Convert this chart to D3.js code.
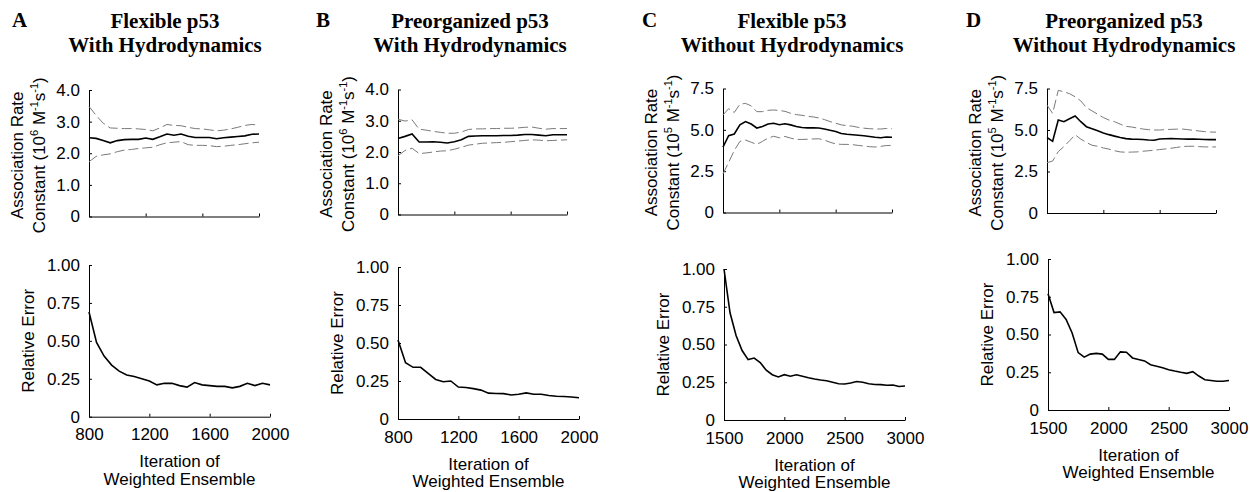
<!DOCTYPE html>
<html lang="en">
  <head>
    <meta charset="UTF-8" />
    <title>p53 association rate convergence</title>
    <script src="https://d3js.org/d3.v7.min.js"></script>
    <style>
      body { margin: 0; background: white; }
      svg { display: block; }
      .tick text, .label { font-family: "Liberation Sans", Arial, sans-serif; font-size: 17px; fill: black; }
      .title { font-family: "Liberation Serif", "Times New Roman", serif; font-weight: bold; font-size: 21px; fill: black; }
      .axis path, .axis line { stroke: black; stroke-width: 1; }
      .mean { fill: none; stroke: black; stroke-width: 1.6; }
      .bound { fill: none; stroke: #7a7a7a; stroke-width: 1; stroke-dasharray: 10,4; }
    </style>
  </head>
  <body>
    <svg width="1250" height="492"></svg>
    <script>
      // iterations of weighted ensemble
      const itersHydro = [800, 850, 900, 950, 1000, 1050, 1100, 1150, 1200, 1250, 1300, 1350, 1400,
        1450, 1500, 1550, 1600, 1650, 1700, 1750, 1800, 1850, 1900, 1950, 2000];
      const itersNoHydro = [1500, 1550, 1600, 1650, 1700, 1750, 1800, 1850, 1900, 1950, 2000, 2050,
        2100, 2150, 2200, 2250, 2300, 2350, 2400, 2450, 2500, 2550, 2600, 2650, 2700, 2750, 2800,
        2850, 2900, 2950, 3000];

      // A: flexible p53, with hydrodynamics (10^6 M^-1 s^-1)
      const aRate = [2.49, 2.47, 2.40, 2.33, 2.40, 2.43, 2.44, 2.44, 2.48, 2.44, 2.52, 2.61, 2.57,
        2.61, 2.54, 2.50, 2.50, 2.50, 2.46, 2.49, 2.51, 2.53, 2.55, 2.60, 2.61];
      const aRateHigh = [3.48, 3.20, 2.95, 2.80, 2.79, 2.78, 2.78, 2.77, 2.75, 2.71, 2.80, 2.91, 2.88,
        2.87, 2.82, 2.78, 2.77, 2.74, 2.71, 2.73, 2.77, 2.82, 2.88, 2.91, 2.89];
      const aRateLow = [1.73, 1.90, 1.95, 1.98, 2.05, 2.10, 2.12, 2.15, 2.17, 2.19, 2.27, 2.33, 2.35,
        2.37, 2.27, 2.25, 2.25, 2.24, 2.21, 2.22, 2.25, 2.27, 2.30, 2.33, 2.35];
      const aError = [0.69, 0.49, 0.40, 0.34, 0.30, 0.275, 0.265, 0.25, 0.235, 0.21, 0.22, 0.22, 0.205,
        0.195, 0.225, 0.21, 0.205, 0.20, 0.20, 0.19, 0.20, 0.22, 0.205, 0.22, 0.21];

      // B: preorganized p53, with hydrodynamics (10^6 M^-1 s^-1)
      const bRate = [2.43, 2.50, 2.58, 2.32, 2.32, 2.33, 2.31, 2.29, 2.33, 2.39, 2.50, 2.51, 2.52,
        2.52, 2.52, 2.53, 2.53, 2.54, 2.56, 2.56, 2.54, 2.52, 2.55, 2.55, 2.55];
      const bRateHigh = [3.05, 2.99, 3.03, 2.73, 2.70, 2.66, 2.63, 2.60, 2.60, 2.64, 2.72, 2.74, 2.74,
        2.75, 2.75, 2.76, 2.76, 2.77, 2.79, 2.80, 2.76, 2.73, 2.75, 2.75, 2.75];
      const bRateLow = [1.88, 2.05, 2.12, 1.95, 1.97, 2.00, 2.03, 2.04, 2.09, 2.15, 2.22, 2.25, 2.28,
        2.29, 2.30, 2.31, 2.33, 2.35, 2.37, 2.39, 2.38, 2.36, 2.37, 2.38, 2.39];
      const bError = [0.52, 0.37, 0.34, 0.34, 0.30, 0.26, 0.245, 0.25, 0.21, 0.207, 0.20, 0.19, 0.17,
        0.168, 0.167, 0.158, 0.163, 0.172, 0.163, 0.163, 0.155, 0.15, 0.148, 0.145, 0.14];

      // C: flexible p53, without hydrodynamics (10^5 M^-1 s^-1)
      const cRate = [3.96, 4.65, 4.75, 5.30, 5.50, 5.35, 5.11, 5.20, 5.35, 5.40, 5.31, 5.37, 5.30,
        5.20, 5.14, 5.12, 5.12, 5.11, 5.05, 4.97, 4.90, 4.78, 4.73, 4.70, 4.67, 4.64, 4.60, 4.55,
        4.52, 4.57, 4.55];
      const cRateHigh = [5.90, 6.28, 6.05, 6.55, 6.60, 6.45, 6.10, 6.10, 6.18, 6.20, 6.17, 6.12, 6.00,
        5.92, 5.88, 5.82, 5.78, 5.72, 5.62, 5.50, 5.40, 5.30, 5.25, 5.22, 5.15, 5.10, 5.07, 5.05,
        5.05, 5.08, 5.07];
      const cRateLow = [2.34, 3.03, 3.75, 4.30, 4.38, 4.25, 4.12, 4.30, 4.50, 4.61, 4.52, 4.60, 4.50,
        4.42, 4.42, 4.43, 4.45, 4.46, 4.38, 4.25, 4.15, 4.12, 4.12, 4.10, 4.06, 4.02, 3.98, 3.96,
        4.00, 4.05, 4.06];
      const cError = [1.00, 0.71, 0.56, 0.46, 0.40, 0.41, 0.38, 0.33, 0.30, 0.285, 0.30, 0.29, 0.30,
        0.29, 0.28, 0.272, 0.265, 0.26, 0.25, 0.24, 0.238, 0.245, 0.255, 0.25, 0.24, 0.235, 0.234,
        0.23, 0.232, 0.222, 0.225];

      // D: preorganized p53, without hydrodynamics (10^5 M^-1 s^-1)
      const dRate = [4.55, 4.32, 5.60, 5.50, 5.68, 5.84, 5.50, 5.20, 5.08, 4.95, 4.82, 4.72, 4.63,
        4.55, 4.48, 4.45, 4.44, 4.43, 4.40, 4.38, 4.46, 4.47, 4.48, 4.47, 4.46, 4.45, 4.45, 4.44,
        4.43, 4.42, 4.42];
      const dRateHigh = [6.50, 6.00, 7.39, 7.30, 7.19, 7.00, 6.75, 6.35, 6.15, 5.95, 5.75, 5.60, 5.50,
        5.35, 5.22, 5.18, 5.12, 5.06, 5.02, 5.00, 5.00, 5.02, 5.04, 5.05, 5.06, 5.02, 4.98, 4.94,
        4.90, 4.88, 4.87];
      const dRateLow = [3.03, 3.13, 3.70, 4.00, 4.35, 4.71, 4.45, 4.25, 4.08, 4.02, 3.92, 3.85, 3.75,
        3.68, 3.66, 3.67, 3.68, 3.72, 3.75, 3.78, 3.82, 3.86, 3.90, 3.95, 4.00, 4.02, 4.02, 4.00,
        3.98, 3.98, 3.98];
      const dError = [0.77, 0.645, 0.65, 0.60, 0.51, 0.38, 0.35, 0.37, 0.375, 0.37, 0.335, 0.335,
        0.385, 0.383, 0.345, 0.335, 0.325, 0.30, 0.29, 0.28, 0.267, 0.258, 0.25, 0.243, 0.254, 0.225,
        0.20, 0.195, 0.19, 0.19, 0.195];

      // tick values and labels
      const xTicksHydro = [800, 1200, 1600, 2000];
      const xTicksNoHydro = [1500, 2000, 2500, 3000];
      const rateTicksHydro = [0, 1, 2, 3, 4];
      const rateLabelsHydro = ["0", "1.0", "2.0", "3.0", "4.0"];
      const rateTicksNoHydro = [0, 2.5, 5, 7.5];
      const rateLabelsNoHydro = ["0", "2.5", "5.0", "7.5"];
      const errorTicks = [0, 0.25, 0.5, 0.75, 1];
      const errorLabels = ["0", "0.25", "0.50", "0.75", "1.00"];

      const panelLetters = ["A", "B", "C", "D"];
      const titleLine1 = ["Flexible p53", "Preorganized p53", "Flexible p53", "Preorganized p53"];
      const titleLine2 = ["With Hydrodynamics", "With Hydrodynamics", "Without Hydrodynamics", "Without Hydrodynamics"];
      const rateExponent = ["6", "6", "5", "5"];

      // layout of each panel (pixel boxes)
      const panels = [
        { iters: itersHydro, xTicks: xTicksHydro, xMax: 2000, xMin: 800,
          rate: [aRate, aRateHigh, aRateLow], err: aError,
          rTicks: rateTicksHydro, rLabels: rateLabelsHydro, rMax: 4,
          letterX: 12, titleX: 165,
          top: { x0: 89, x1: 259, y0: 90, y1: 216.5 },
          bot: { x0: 89, x1: 270, y0: 265, y1: 416.7 } },
        { iters: itersHydro, xTicks: xTicksHydro, xMax: 2000, xMin: 800,
          rate: [bRate, bRateHigh, bRateLow], err: bError,
          rTicks: rateTicksHydro, rLabels: rateLabelsHydro, rMax: 4,
          letterX: 316, titleX: 470,
          top: { x0: 398, x1: 567, y0: 89.5, y1: 214.5 },
          bot: { x0: 398, x1: 579, y0: 267, y1: 419 } },
        { iters: itersNoHydro, xTicks: xTicksNoHydro, xMax: 3000, xMin: 1500,
          rate: [cRate, cRateHigh, cRateLow], err: cError,
          rTicks: rateTicksNoHydro, rLabels: rateLabelsNoHydro, rMax: 7.5,
          letterX: 642, titleX: 792,
          top: { x0: 723, x1: 892, y0: 88.5, y1: 212.5 },
          bot: { x0: 724, x1: 905, y0: 269, y1: 420 } },
        { iters: itersNoHydro, xTicks: xTicksNoHydro, xMax: 3000, xMin: 1500,
          rate: [dRate, dRateHigh, dRateLow], err: dError,
          rTicks: rateTicksNoHydro, rLabels: rateLabelsNoHydro, rMax: 7.5,
          letterX: 966, titleX: 1124,
          top: { x0: 1047, x1: 1216, y0: 88.5, y1: 213 },
          bot: { x0: 1048, x1: 1229, y0: 259, y1: 410 } }
      ];

      const svg = d3.select("svg");

      function drawPlot(box, p, yMax, yTicks, yLabels, seriesList, showXLabels) {
        const x = d3.scaleLinear().domain([p.xMin, p.xMax]).range([box.x0, box.x1]);
        const y = d3.scaleLinear().domain([0, yMax]).range([box.y1, box.y0]);

        svg.append("g")
          .attr("class", "axis")
          .attr("transform", "translate(0," + box.y1 + ")")
          .call(d3.axisBottom(x).tickValues(p.xTicks).tickSizeInner(-3).tickSizeOuter(0)
            .tickPadding(11.5).tickFormat(showXLabels ? d3.format("d") : ""));

        svg.append("g")
          .attr("class", "axis")
          .attr("transform", "translate(" + box.x0 + ",0)")
          .call(d3.axisLeft(y).tickValues(yTicks).tickSizeInner(-3).tickSizeOuter(0)
            .tickPadding(9).tickFormat(function (d, i) { return yLabels[i]; }));

        svg.selectAll(".axis text").attr("font-family", null).attr("font-size", null);

        seriesList.forEach(function (s) {
          const line = d3.line()
            .x(function (d, i) { return x(p.iters[i]); })
            .y(function (d) { return y(d); });
          svg.append("path")
            .datum(s.values)
            .attr("class", s.cls)
            .attr("d", line);
        });
      }

      panels.forEach(function (p, k) {
        // title
        svg.append("text").attr("class", "title")
          .attr("x", p.letterX).attr("y", 27).text(panelLetters[k]);
        svg.append("text").attr("class", "title")
          .attr("x", p.titleX).attr("y", 28).attr("text-anchor", "middle").text(titleLine1[k]);
        svg.append("text").attr("class", "title")
          .attr("x", p.titleX).attr("y", 52).attr("text-anchor", "middle").text(titleLine2[k]);

        // association rate constant
        drawPlot(p.top, p, p.rMax, p.rTicks, p.rLabels, [
          { values: p.rate[1], cls: "bound" },
          { values: p.rate[2], cls: "bound" },
          { values: p.rate[0], cls: "mean" }
        ], false);

        const cyTop = (p.top.y0 + p.top.y1) / 2 + 2;
        svg.append("text").attr("class", "label")
          .attr("text-anchor", "middle")
          .attr("transform", "translate(" + (p.top.x0 - 66) + "," + cyTop + ") rotate(-90)")
          .text("Association Rate");
        const l2 = svg.append("text").attr("class", "label")
          .attr("text-anchor", "middle")
          .attr("transform", "translate(" + (p.top.x0 - 44) + "," + cyTop + ") rotate(-90)");
        l2.append("tspan").text("Constant (10");
        l2.append("tspan").attr("dy", -7).attr("font-size", "11px").text(rateExponent[k]);
        l2.append("tspan").attr("dy", 7).text(" M");
        l2.append("tspan").attr("dy", -7).attr("font-size", "11px").text("-1");
        l2.append("tspan").attr("dy", 7).text("s");
        l2.append("tspan").attr("dy", -7).attr("font-size", "11px").text("-1");
        l2.append("tspan").attr("dy", 7).text(")");

        // relative error
        drawPlot(p.bot, p, 1, errorTicks, errorLabels, [
          { values: p.err, cls: "mean" }
        ], true);

        const cyBot = (p.bot.y0 + p.bot.y1) / 2;
        svg.append("text").attr("class", "label")
          .attr("text-anchor", "middle")
          .attr("transform", "translate(" + (p.bot.x0 - 55) + "," + cyBot + ") rotate(-90)")
          .text("Relative Error");

        const cxBot = (p.bot.x0 + p.bot.x1) / 2;
        svg.append("text").attr("class", "label")
          .attr("text-anchor", "middle")
          .attr("x", cxBot).attr("y", p.bot.y1 + 50.5)
          .text("Iteration of");
        svg.append("text").attr("class", "label")
          .attr("text-anchor", "middle")
          .attr("x", cxBot).attr("y", p.bot.y1 + 68)
          .text("Weighted Ensemble");
      });
    </script>
  </body>
</html>
